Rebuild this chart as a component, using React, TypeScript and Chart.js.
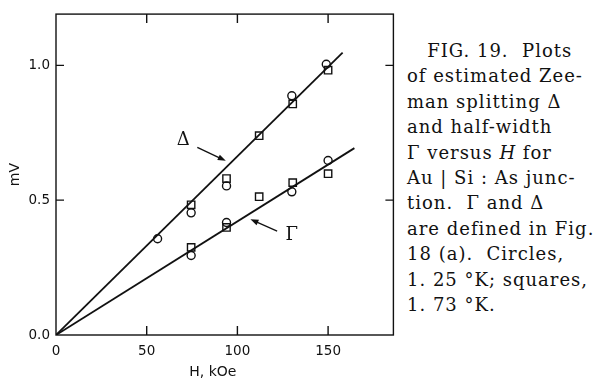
import React, { useEffect, useRef } from "react";
import { Chart, registerables } from "chart.js";

Chart.register(...registerables);

// ---- data (H in kOe, V in mV) ----
const circleDeltaH = [56, 74.5, 94, 130, 149];
const circleDeltaV = [0.357, 0.453, 0.553, 0.887, 1.004];
const circleGammaH = [74.5, 94, 130, 150];
const circleGammaV = [0.295, 0.417, 0.531, 0.647];
const squareDeltaH = [74.5, 94, 112, 130.5, 150];
const squareDeltaV = [0.483, 0.58, 0.739, 0.857, 0.982];
const squareGammaH = [74.5, 94, 112, 130.5, 150];
const squareGammaV = [0.325, 0.399, 0.513, 0.565, 0.598];
const deltaLineH = [0, 158];
const deltaLineV = [0, 1.047];
const gammaLineH = [0, 164.5];
const gammaLineV = [0, 0.693];

const xTicks = [0, 50, 100, 150];
const yTicks = [0, 0.5, 1.0];
const xMax = 186;
const yMax = 1.19;

// annotation labels with arrows (data coordinates)
const labelText = ["Δ", "Γ"];
const labelH = [70.2, 130];
const labelV = [0.723, 0.371];
const arrowFromH = [77.9, 121.9];
const arrowFromV = [0.696, 0.385];
const arrowToH = [93.6, 107.2];
const arrowToV = [0.646, 0.429];

const captionLines = [
  "   FIG. 19.  Plots",
  "of estimated Zee-",
  "man splitting Δ",
  "and half-width",
  "Γ versus *H* for",
  "Au | Si : As junc-",
  "tion.  Γ and Δ",
  "are defined in Fig.",
  "18 (a).  Circles,",
  "1. 25 °K; squares,",
  "1. 73 °K.",
];

const toPts = (h: number[], v: number[]) => h.map((x, i) => ({ x, y: v[i] }));

const INK = "#111111";
const SANS = '"DejaVu Sans", sans-serif';

const framePlugin = {
  id: "frameAndNotes",
  afterDraw(chart: any) {
    const { ctx, chartArea: a, scales } = chart;
    const xs = scales.x;
    const ys = scales.y;
    ctx.save();
    ctx.strokeStyle = INK;
    ctx.lineWidth = 1.4;
    ctx.strokeRect(a.left, a.top, a.right - a.left, a.bottom - a.top);
    const tl = 9;
    ctx.beginPath();
    xTicks.forEach((v) => {
      if (v === 0) return;
      const px = xs.getPixelForValue(v);
      ctx.moveTo(px, a.bottom);
      ctx.lineTo(px, a.bottom - tl);
      ctx.moveTo(px, a.top);
      ctx.lineTo(px, a.top + tl);
    });
    yTicks.forEach((v) => {
      if (v === 0) return;
      const py = ys.getPixelForValue(v);
      ctx.moveTo(a.left, py);
      ctx.lineTo(a.left + 8, py);
      ctx.moveTo(a.right, py);
      ctx.lineTo(a.right - 8, py);
    });
    ctx.stroke();

    // arrows + labels
    labelText.forEach((t, i) => {
      const x1 = xs.getPixelForValue(arrowFromH[i]);
      const y1 = ys.getPixelForValue(arrowFromV[i]);
      const x2 = xs.getPixelForValue(arrowToH[i]);
      const y2 = ys.getPixelForValue(arrowToV[i]);
      const ang = Math.atan2(y2 - y1, x2 - x1);
      const hl = 8;
      const hw = 3;
      ctx.beginPath();
      ctx.lineWidth = 1.3;
      ctx.moveTo(x1, y1);
      ctx.lineTo(x2 - Math.cos(ang) * hl * 0.8, y2 - Math.sin(ang) * hl * 0.8);
      ctx.stroke();
      ctx.beginPath();
      ctx.fillStyle = INK;
      ctx.moveTo(x2, y2);
      ctx.lineTo(
        x2 - Math.cos(ang) * hl - Math.sin(ang) * hw,
        y2 - Math.sin(ang) * hl + Math.cos(ang) * hw
      );
      ctx.lineTo(
        x2 - Math.cos(ang) * hl + Math.sin(ang) * hw,
        y2 - Math.sin(ang) * hl - Math.cos(ang) * hw
      );
      ctx.closePath();
      ctx.fill();

      ctx.font = '18px "DejaVu Serif", serif';
      ctx.textAlign = "center";
      ctx.textBaseline = "middle";
      ctx.fillText(t, xs.getPixelForValue(labelH[i]), ys.getPixelForValue(labelV[i]));
    });

    // x axis title
    ctx.font = "14px " + SANS;
    ctx.textAlign = "center";
    ctx.textBaseline = "middle";
    ctx.fillStyle = INK;
    ctx.fillText("H, kOe", a.left + (a.right - a.left) * 0.465, a.bottom + 37);
    ctx.restore();
  },
};

export default function App() {
  const ref = useRef<HTMLCanvasElement | null>(null);

  useEffect(() => {
    if (!ref.current) return;
    const pointDs = (label: string, h: number[], v: number[], style: string) => ({
      label,
      data: toPts(h, v),
      showLine: false,
      pointStyle: style,
      pointRadius: style === "rect" ? 5.2 : 4,
      pointBorderWidth: 1.4,
      pointBorderColor: INK,
      pointBackgroundColor: "rgba(0,0,0,0)",
      order: 1,
    });
    const lineDs = (label: string, h: number[], v: number[]) => ({
      label,
      data: toPts(h, v),
      showLine: true,
      borderColor: INK,
      borderWidth: 1.8,
      pointRadius: 0,
      order: 2,
    });
    const chart = new Chart(ref.current, {
      type: "scatter",
      data: {
        datasets: [
          lineDs("Δ fit", deltaLineH, deltaLineV),
          lineDs("Γ fit", gammaLineH, gammaLineV),
          pointDs("Δ, 1.25 °K", circleDeltaH, circleDeltaV, "circle"),
          pointDs("Γ, 1.25 °K", circleGammaH, circleGammaV, "circle"),
          pointDs("Δ, 1.73 °K", squareDeltaH, squareDeltaV, "rect"),
          pointDs("Γ, 1.73 °K", squareGammaH, squareGammaV, "rect"),
        ] as any,
      },
      options: {
        animation: false,
        responsive: true,
        maintainAspectRatio: false,
        layout: { padding: { left: 0, top: 5, right: 6, bottom: 0 } },
        plugins: {
          legend: { display: false },
          tooltip: { enabled: false },
        },
        scales: {
          x: {
            type: "linear",
            min: 0,
            max: xMax,
            grid: { display: false, drawTicks: false },
            border: { display: false },
            ticks: {
              includeBounds: false,
              padding: 8,
              color: INK,
              font: { family: SANS, size: 13.5 },
              callback: (v: any) => String(v),
            },
            afterBuildTicks: (s: any) => {
              s.ticks = xTicks.map((value) => ({ value }));
            },
            afterFit: (s: any) => {
              s.height = 48;
            },
          },
          y: {
            type: "linear",
            min: 0,
            max: yMax,
            grid: { display: false, drawTicks: false },
            border: { display: false },
            title: {
              display: true,
              text: "mV",
              color: INK,
              font: { family: SANS, size: 14 },
              padding: { top: 7, bottom: 0 },
            },
            ticks: {
              includeBounds: false,
              padding: 6,
              color: INK,
              font: { family: SANS, size: 13.5 },
              callback: (v: any) => Number(v).toFixed(1),
            },
            afterBuildTicks: (s: any) => {
              s.ticks = yTicks.map((value) => ({ value }));
            },
            afterFit: (s: any) => {
              s.width = 56;
            },
          },
        },
      } as any,
      plugins: [framePlugin],
    });
    return () => chart.destroy();
  }, []);

  return (
    <div
      style={{
        position: "absolute",
        left: 0,
        top: 0,
        width: 597,
        height: 383,
        background: "#fff",
        overflow: "hidden",
      }}
    >
      <div style={{ position: "absolute", left: 0, top: 0, width: 400, height: 383 }}>
        <canvas ref={ref} />
      </div>
      <div
        style={{
          position: "absolute",
          left: 407,
          top: 38,
          fontFamily: '"DejaVu Serif", serif',
          fontSize: 18,
          lineHeight: "25.4px",
          letterSpacing: "1px",
          color: INK,
          whiteSpace: "pre",
        }}
      >
        {captionLines.map((line, i) => (
          <div key={i}>
            {line.split(/(\*[^*]+\*)/).map((seg, j) =>
              seg.startsWith("*") ? (
                <i key={j}>{seg.slice(1, -1)}</i>
              ) : (
                <span key={j}>{seg}</span>
              )
            )}
          </div>
        ))}
      </div>
    </div>
  );
}
